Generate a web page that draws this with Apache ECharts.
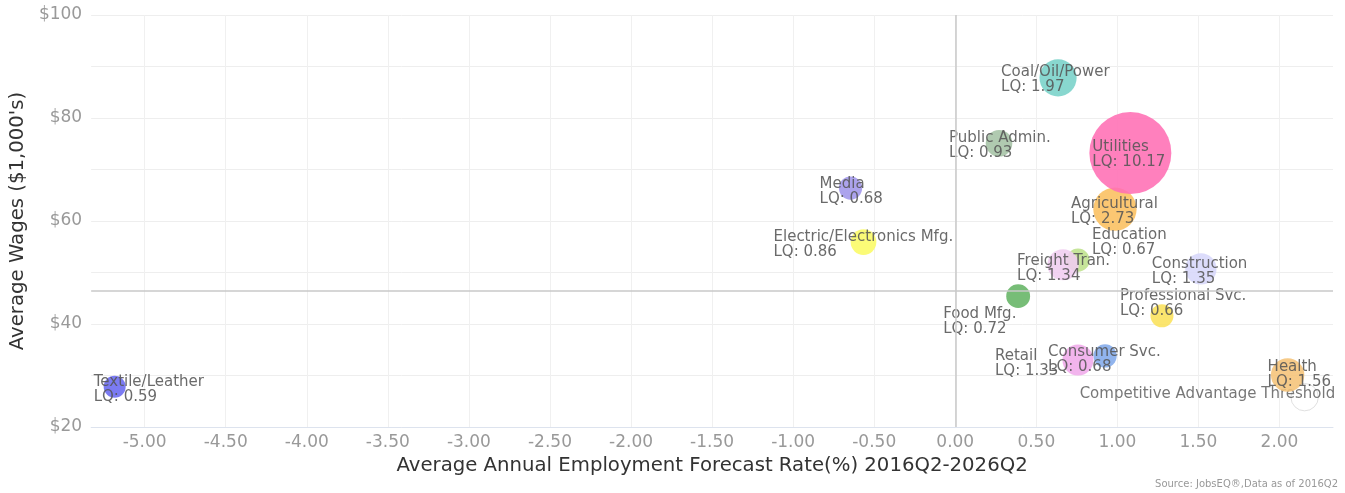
<!DOCTYPE html>
<html>
<head>
<meta charset="utf-8">
<script src="https://cdn.jsdelivr.net/npm/echarts@6/dist/echarts.min.js"></script>
<style>
html,body{margin:0;padding:0;background:#fff;}
#chart{width:1345px;height:493px;}
</style>
</head>
<body>
<div id="chart"></div>
<script>
// ---- data ----
const industries = ['Coal/Oil/Power','Public Admin.','Agricultural','Utilities','Media','Electric/Electronics Mfg.','Education','Freight Tran.','Construction','Food Mfg.','Professional Svc.','Consumer Svc.','Retail','Health','Textile/Leather'];
const forecastRate = [0.634, 0.27, 0.985, 1.08, -0.646, -0.566, 0.757, 0.665, 1.515, 0.388, 1.275, 0.924, 0.757, 2.05, -5.185];
const avgWages = [87.8, 75.1, 62.3, 73.2, 66.4, 55.9, 52.4, 51.5, 50.7, 45.4, 41.6, 33.8, 33.0, 30.1, 27.8];
const lq = [1.97, 0.93, 2.73, 10.17, 0.68, 0.86, 0.67, 1.34, 1.35, 0.72, 0.66, 0.68, 1.33, 1.56, 0.59];
const thresholdLabel = 'Competitive Advantage Threshold';
const thresholdX = [2.155];
const thresholdY = [25.8];
const thresholdLQ = [1.0];
const avgWageThreshold = 46.4;
const xTicks = [-5, -4.5, -4, -3.5, -3, -2.5, -2, -1.5, -1, -0.5, 0, 0.5, 1, 1.5, 2];
const yTicks = [20, 40, 60, 80, 100];

// ---- styles ----
const colors = ['#78d2c8','#a5c3a5','#fbbf5e','#ff6eb4','#a096eb','#fafa64','#bee18c','#f0cdf0','#d7d7fa','#64b464','#fae15a','#82aaeb','#f0aaeb','#f5c378','#6969f0'];
const labelShift = {
  'Coal/Oil/Power':[-57,2], 'Public Admin.':[-50,2], 'Utilities':[-38,2], 'Media':[-31,4],
  'Agricultural':[-44,2], 'Electric/Electronics Mfg.':[-90,2], 'Education':[14,-18],
  'Freight Tran.':[-46,4], 'Construction':[-49,3], 'Food Mfg.':[-75,25],
  'Professional Svc.':[-42,-12], 'Consumer Svc.':[-57,4], 'Retail':[-83,4],
  'Health':[-20,0], 'Textile/Leather':[-21,3]
};
function bubbleSize(v){ return 2*Math.sqrt(25 + 162.8*v); }
const FONT = 'DejaVu Sans';

const bubbleData = industries.map((n,i)=>({
  name:n,
  value:[forecastRate[i], avgWages[i], lq[i]],
  itemStyle:{color:colors[i], opacity:0.88},
  label:{offset:labelShift[n]}
}));

const chart = echarts.init(document.getElementById('chart'), null, {renderer:'canvas'});
chart.setOption({
  animation:false,
  backgroundColor:'#fff',
  grid:{left:89, right:12, top:15, bottom:66, containLabel:false},
  xAxis:{
    type:'value', min:-5.33, max:2.33,
    name:'Average Annual Employment Forecast Rate(%) 2016Q2-2026Q2',
    nameLocation:'middle', nameGap:27,
    nameTextStyle:{fontFamily:FONT, fontSize:19.7, color:'#333'},
    axisLine:{show:true, lineStyle:{color:'#dde3ee', width:1}},
    axisTick:{show:false, customValues:xTicks},
    axisLabel:{customValues:xTicks, formatter:v=>v.toFixed(2), fontFamily:FONT, fontSize:17, color:'#999', margin:7},
    splitLine:{show:true, lineStyle:{color:'#f0f0f0', width:1}}
  },
  yAxis:{
    type:'value', min:20, max:100, interval:10,
    name:"Average Wages ($1,000's)",
    nameLocation:'middle', nameGap:60,
    nameTextStyle:{fontFamily:FONT, fontSize:19.7, color:'#333'},
    axisLine:{show:false}, axisTick:{show:false},
    axisLabel:{formatter:v=>yTicks.indexOf(v)>=0?('$'+v):'', fontFamily:FONT, fontSize:17, color:'#999', margin:9},
    splitLine:{show:true, lineStyle:{color:'#eeeeee', width:1}}
  },
  series:[
    {
      type:'scatter', name:'threshold', z:2,
      data:thresholdX.map((x,i)=>({name:thresholdLabel, value:[x, thresholdY[i], thresholdLQ[i]]})),
      symbolSize:d=>bubbleSize(d[2]),
      itemStyle:{color:'rgba(255,255,255,0.6)', borderColor:'#d8d8d8', borderWidth:1},
      label:{show:true, position:'inside', align:'left', verticalAlign:'middle', offset:[-225,-3],
        formatter:p=>p.name, fontFamily:FONT, fontSize:15, color:'#555'},
      emphasis:{disabled:true}, silent:true
    },
    {
      type:'scatter', name:'industries', z:3,
      data:bubbleData,
      symbolSize:d=>bubbleSize(d[2]),
      label:{show:true, position:'inside', align:'left', verticalAlign:'middle',
        formatter:p=>p.name+'\nLQ: '+p.value[2].toFixed(2),
        fontFamily:FONT, fontSize:15, lineHeight:15, color:'#555'},
      emphasis:{disabled:true},
      markLine:{
        silent:true, symbol:['none','none'], label:{show:false},
        lineStyle:{color:'#c8c8c8', width:1.5, type:'solid'},
        data:[{xAxis:0},{yAxis:avgWageThreshold}]
      }
    }
  ],
  graphic:[{
    type:'text', right:7, bottom:4,
    style:{text:'Source: JobsEQ®,Data as of 2016Q2', font:'10px "DejaVu Sans"', fill:'#999'}
  }]
});
</script>
</body>
</html>
